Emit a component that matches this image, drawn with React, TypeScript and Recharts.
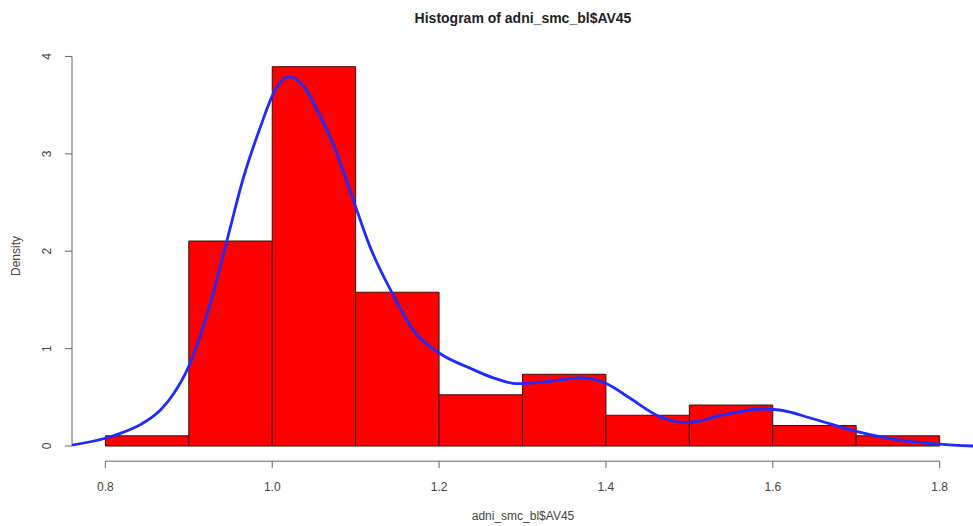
import { ComposedChart, Line, ReferenceArea, ReferenceLine, XAxis, YAxis } from 'recharts'

// histogram bins (left edge, right edge) and densities
const binStart = [0.8, 0.9, 1.0, 1.1, 1.2, 1.3, 1.4, 1.5, 1.6, 1.7]
const binEnd = [0.9, 1.0, 1.1, 1.2, 1.3, 1.4, 1.5, 1.6, 1.7, 1.8]
const binDensity = [0.105, 2.105, 3.895, 1.579, 0.526, 0.737, 0.316, 0.421, 0.211, 0.105]

// kernel density curve
const curveX = [
  0.76, 0.8, 0.818, 0.842, 0.866, 0.882, 0.899, 0.912, 0.927, 0.946, 0.966, 0.986, 1.002, 1.02,
  1.038, 1.054, 1.074, 1.097, 1.117, 1.145, 1.169, 1.201, 1.237, 1.265, 1.293, 1.329, 1.369,
  1.401, 1.429, 1.465, 1.497, 1.541, 1.588, 1.608, 1.648, 1.7, 1.752, 1.8, 1.84
]
const curveY = [
  0.01, 0.08, 0.13, 0.22, 0.37, 0.54, 0.8, 1.09, 1.5, 2.12, 2.77, 3.28, 3.63, 3.79,
  3.69, 3.45, 3.08, 2.53, 2.05, 1.55, 1.19, 0.95, 0.8, 0.7, 0.64, 0.66, 0.7,
  0.64, 0.49, 0.3, 0.24, 0.32, 0.38, 0.37, 0.28, 0.15, 0.06, 0.02, 0.0
]

const xTicks = [0.8, 1.0, 1.2, 1.4, 1.6, 1.8]
const yTicks = [0, 1, 2, 3, 4]

const X_DOMAIN: [number, number] = [0.76, 1.84]
const Y_DOMAIN: [number, number] = [-0.1558, 4.0508]

const W = 973
const H = 526
const axisColor = '#666'
const textColor = '#444'
const font = '"Liberation Sans", Arial, sans-serif'

const curve = curveX.map((x, i) => ({ x, y: curveY[i] }))

function YTick(props: any) {
  const { x, y, payload } = props
  const tx = x - 12
  return (
    <text
      x={tx}
      y={y}
      transform={`rotate(-90, ${tx}, ${y})`}
      textAnchor="middle"
      fill={textColor}
      fontSize={12}
      fontFamily={font}
    >
      {payload.value}
    </text>
  )
}

export default function App() {
  return (
    <div style={{ position: 'absolute', left: 0, top: 0, width: W, height: H, background: '#fff' }}>
      <div
        style={{
          position: 'absolute',
          left: 72,
          width: 902,
          top: 10,
          textAlign: 'center',
          fontFamily: font,
          fontWeight: 'bold',
          fontSize: 14,
          color: '#222'
        }}
      >
        Histogram of adni_smc_bl$AV45
      </div>
      <ComposedChart
        width={W}
        height={H}
        data={curve}
        margin={{ top: 51.5, right: 0, left: 0, bottom: 0 }}
      >
        <XAxis
          type="number"
          dataKey="x"
          domain={X_DOMAIN}
          allowDataOverflow
          ticks={xTicks}
          tickFormatter={(v) => v.toFixed(1)}
          axisLine={false}
          tickLine={{ stroke: axisColor }}
          tickSize={7}
          tickMargin={14}
          height={64.8}
          tick={{ fill: textColor, fontSize: 12, fontFamily: font }}
        />
        <YAxis
          type="number"
          domain={Y_DOMAIN}
          allowDataOverflow
          ticks={yTicks}
          axisLine={false}
          tickLine={{ stroke: axisColor }}
          tickSize={7}
          width={72}
          tick={<YTick />}
        />
        {binStart.map((s, i) => (
          <ReferenceArea
            key={s}
            x1={s}
            x2={binEnd[i]}
            y1={0}
            y2={binDensity[i]}
            fill="#ff0000"
            fillOpacity={1}
            stroke="#3a1010"
            strokeWidth={1}
          />
        ))}
        <ReferenceLine
          segment={[
            { x: X_DOMAIN[0], y: 0 },
            { x: X_DOMAIN[0], y: yTicks[yTicks.length - 1] }
          ]}
          stroke={axisColor}
          strokeWidth={1}
          ifOverflow="visible"
        />
        <ReferenceLine
          segment={[
            { x: xTicks[0], y: Y_DOMAIN[0] },
            { x: xTicks[xTicks.length - 1], y: Y_DOMAIN[0] }
          ]}
          stroke={axisColor}
          strokeWidth={1}
          ifOverflow="visible"
        />
        <Line
          type="monotone"
          dataKey="y"
          stroke="#1f2bff"
          strokeWidth={2.8}
          dot={false}
          isAnimationActive={false}
        />
      </ComposedChart>
      <div
        style={{
          position: 'absolute',
          left: 72,
          width: 902,
          top: 509,
          textAlign: 'center',
          fontFamily: font,
          fontSize: 12,
          color: textColor
        }}
      >
        adni_smc_bl$AV45
      </div>
      <div
        style={{
          position: 'absolute',
          left: 16,
          top: 256,
          transform: 'translate(-50%, -50%) rotate(-90deg)',
          fontFamily: font,
          fontSize: 12,
          color: textColor,
          whiteSpace: 'nowrap'
        }}
      >
        Density
      </div>
    </div>
  )
}
